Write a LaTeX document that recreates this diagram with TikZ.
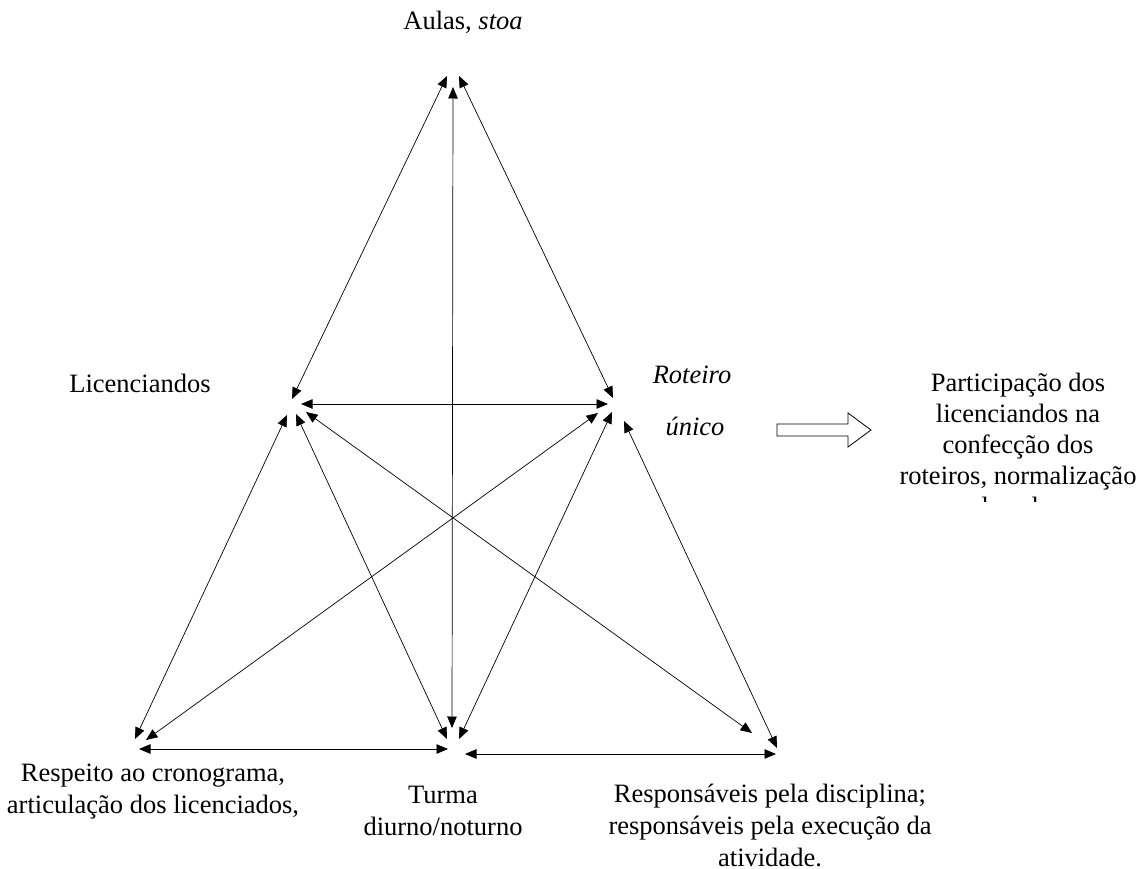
\documentclass[tikz,border=0pt]{standalone}
\usepackage{fontspec}
\setmainfont{Liberation Serif}
\usetikzlibrary{arrows.meta}
\begin{document}
\begin{tikzpicture}[x=1pt,y=-1pt,
  link/.style={line width=0.7pt,
    {Triangle[length=11.5pt,width=9.5pt]}-{Triangle[length=11.5pt,width=9.5pt]}},
  lbl/.style={font=\fontsize{26.5}{32}\selectfont, align=center, inner sep=0pt},
  boxtext/.style={lbl, font=\fontsize{26.5}{31}\selectfont},
  blockarrow/.style={draw, line width=0.8pt, fill=white}]
\useasboundingbox (0,0) rectangle (1141,869);

% ends of the connectors around each corner
\coordinate (a1) at (447,76);
\coordinate (a2) at (453,87);
\coordinate (a3) at (459,76);
\coordinate (l1) at (292,399);
\coordinate (l2) at (301,404);
\coordinate (l3) at (287,415);
\coordinate (l4) at (296,414);
\coordinate (l5) at (306,412);
\coordinate (r1) at (613,398);
\coordinate (r2) at (608,404);
\coordinate (r3) at (598,413);
\coordinate (r4) at (612,412);
\coordinate (r5) at (624,421);
\coordinate (bl1) at (135,739);
\coordinate (bl2) at (146,740);
\coordinate (bl3) at (139,749);
\coordinate (bm1) at (452,728);
\coordinate (bm2) at (447,739);
\coordinate (bm3) at (459,739);
\coordinate (bm4) at (448,749);
\coordinate (bm5) at (465,754);
\coordinate (br1) at (752,733);
\coordinate (br2) at (777,748);
\coordinate (br3) at (776,754);

% connectors
\draw[link] (a1) -- (l1);
\draw[link] (a2) -- (bm1);
\draw[link] (a3) -- (r1);
\draw[link] (l2) -- (r2);
\draw[link] (l3) -- (bl1);
\draw[link] (l4) -- (bm2);
\draw[link] (l5) -- (br1);
\draw[link] (r3) -- (bl2);
\draw[link] (r4) -- (bm3);
\draw[link] (r5) -- (br2);
\draw[link] (bl3) -- (bm4);
\draw[link] (bm5) -- (br3);

% labels
\node[lbl, anchor=base] (aulas) at (463,30) {Aulas, \textit{stoa}};
\node[lbl, anchor=base] (lic) at (140,392) {Licenciandos};
\node[lbl, anchor=base] (rot) at (692,383) {\textit{Roteiro}};
\node[lbl, anchor=base] (unico) at (695,435) {\textit{único}};
\node[lbl, anchor=north] (resp) at (153,764) {Respeito ao cronograma,\\articulação dos licenciados,};
\node[lbl, anchor=north] (turma) at (443,786) {Turma\\diurno/noturno};
\node[lbl, anchor=north] (respons) at (770,784) {Responsáveis pela disciplina;\\responsáveis pela execução da\\atividade.};

% outlined block arrow
\draw[blockarrow] (777,424) -- (848,424) -- (848,413) -- (871,430)
  -- (848,447) -- (848,436) -- (777,436) -- cycle;

% text box whose last line is cut off
\begin{scope}
  \clip (880,350) rectangle (1141,501);
  \node[boxtext, anchor=north] (part) at (1018,373)
    {Participação dos\\licenciandos na\\confecção dos\\roteiros, normalização\\de aulas};
\end{scope}
\end{tikzpicture}
\end{document}
